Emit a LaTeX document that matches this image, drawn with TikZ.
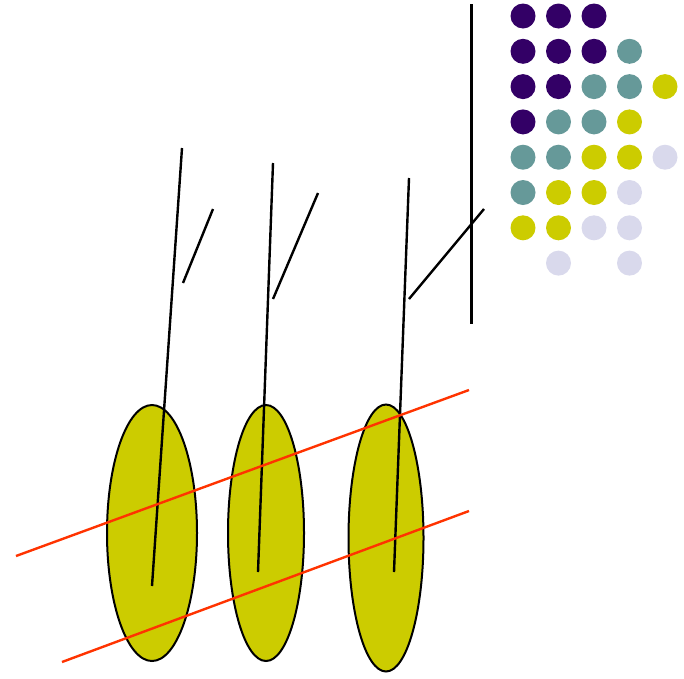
\documentclass[tikz,border=0pt]{standalone}
\definecolor{dpurple}{HTML}{330066}
\definecolor{dteal}{HTML}{669999}
\definecolor{dyellow}{HTML}{CCCC00}
\definecolor{dlav}{HTML}{D9D9EC}
\definecolor{dred}{HTML}{FF3300}
\begin{document}
\begin{tikzpicture}[x=1pt,y=-1pt,
  blob/.style={draw=black,line width=2pt,fill=dyellow},
  stroke/.style={draw=black,line width=2.4pt},
  redline/.style={draw=dred,line width=2.4pt},
  dot/.style={circle,inner sep=0pt,minimum size=25pt}]
\useasboundingbox (0,0) rectangle (684,678);
% ellipses
\draw[blob] (152,533) ellipse [x radius=45, y radius=128];
\draw[blob] (266,533) ellipse [x radius=38, y radius=128];
\draw[blob] (386,538) ellipse [x radius=37.5, y radius=133.5];
% black strokes
\coordinate (a1) at (182,148); \coordinate (b1) at (152,586);
\coordinate (c1) at (213,209); \coordinate (d1) at (183,283);
\coordinate (a2) at (273,163); \coordinate (b2) at (258,572);
\coordinate (c2) at (318,193); \coordinate (d2) at (273,299);
\coordinate (a3) at (409,178); \coordinate (b3) at (394,572);
\coordinate (c3) at (484,209); \coordinate (d3) at (409,299);
\coordinate (v1) at (471,4); \coordinate (v2) at (471,324);
\draw[stroke] (a1) -- (b1);
\draw[stroke] (c1) -- (d1);
\draw[stroke] (a2) -- (b2);
\draw[stroke] (c2) -- (d2);
\draw[stroke] (a3) -- (b3);
\draw[stroke] (c3) -- (d3);
\draw[stroke,line width=3pt] (v1) -- (v2);
% red lines
\coordinate (r1) at (16,556); \coordinate (r2) at (469,390);
\coordinate (r3) at (62,662); \coordinate (r4) at (469,511);
\draw[redline] (r1) -- (r2);
\draw[redline] (r3) -- (r4);
% dot grid (column, row, colour)
\foreach \i/\j/\col in {
  0/0/dpurple,1/0/dpurple,2/0/dpurple,
  0/1/dpurple,1/1/dpurple,2/1/dpurple,3/1/dteal,
  0/2/dpurple,1/2/dpurple,2/2/dteal,3/2/dteal,4/2/dyellow,
  0/3/dpurple,1/3/dteal,2/3/dteal,3/3/dyellow,
  0/4/dteal,1/4/dteal,2/4/dyellow,3/4/dyellow,4/4/dlav,
  0/5/dteal,1/5/dyellow,2/5/dyellow,3/5/dlav,
  0/6/dyellow,1/6/dyellow,2/6/dlav,3/6/dlav,
  1/7/dlav,3/7/dlav}{
  \node[dot,fill=\col] (g\i\j) at ({523+35.5*\i},{16+35.3*\j}) {};
}
\end{tikzpicture}
\end{document}
